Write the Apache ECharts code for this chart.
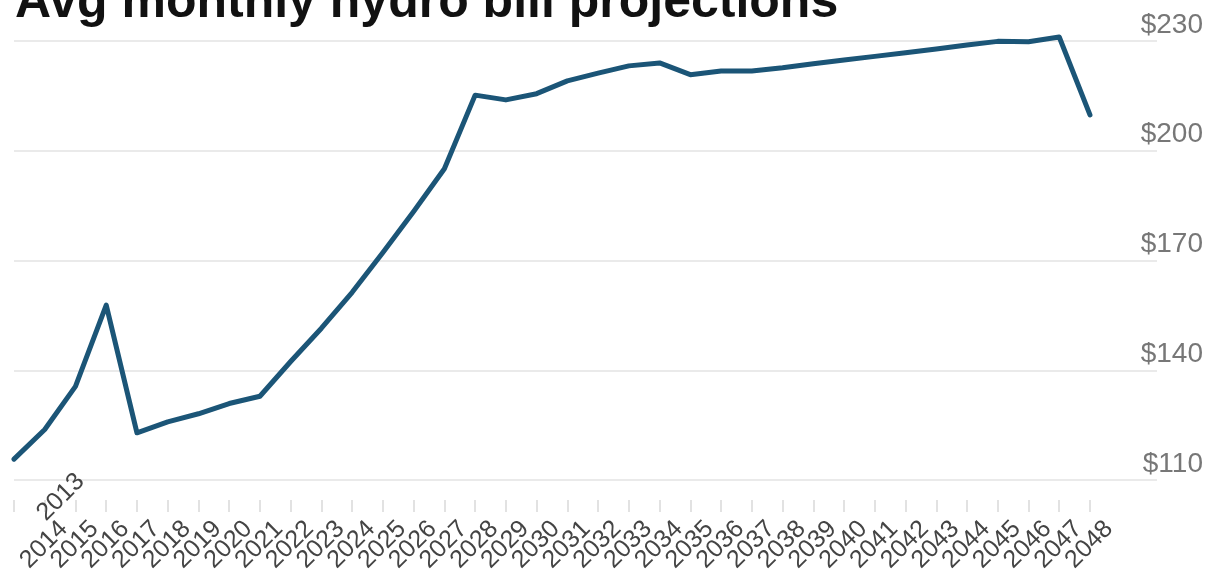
<!DOCTYPE html>
<html><head><meta charset="utf-8">
<script src="https://cdn.jsdelivr.net/npm/echarts@6/dist/echarts.min.js"></script>
<style>html,body{margin:0;padding:0;background:#fff}#c{width:1206px;height:577px}</style>
</head><body><div id="c"></div>
<script>
const chartTitle = 'Avg monthly hydro bill projections';
const years = [2013,2014,2015,2016,2017,2018,2019,2020,2021,2022,2023,2024,2025,2026,2027,2028,2029,2030,2031,2032,2033,2034,2035,2036,2037,2038,2039,2040,2041,2042,2043,2044,2045,2046,2047,2048];
const bills = [115.7,123.8,135.6,157.8,122.9,125.9,128.1,130.9,132.9,142.4,151.5,161.3,172.2,183.4,195.1,215.2,213.9,215.6,219.1,221.2,223.2,224.0,220.8,221.8,221.8,222.7,223.8,224.8,225.8,226.8,227.8,228.9,229.9,229.8,231.1,209.8];
const yTicks = [110,140,170,200,230];

const FONT = "'Liberation Sans', Arial, sans-serif";
const labelShift = 0.62; // label anchor offset (in years) to the right of its tick
const xMax = 2050.18;

function labelAxis(parity, withTicks) {
  return {
    type: 'value', position: 'bottom', min: years[0], max: xMax, interval: 1, offset: 20,
    axisLine: {show: false},
    splitLine: {show: false},
    axisTick: withTicks
      ? {show: true, length: 12, customValues: years, lineStyle: {color: '#d9d9d9', width: 1.5}}
      : {show: false},
    axisLabel: {
      customValues: years.filter((y, i) => i % 2 === parity).map(y => y + labelShift),
      showMinLabel: true, showMaxLabel: true, hideOverlap: false,
      rotate: 45, margin: 25, fontFamily: FONT, fontSize: 25, color: '#444',
      formatter: v => {
        const y = Math.round(v - labelShift);
        return y === years[0] ? '{first|' + y + '}' : String(y);
      },
      rich: {first: {fontFamily: FONT, fontSize: 25, color: '#444', padding: [0, -67, 0, 0]}}
    }
  };
}

const chart = echarts.init(document.getElementById('c'), null, {renderer: 'canvas'});
chart.setOption({
  animation: false,
  backgroundColor: '#fff',
  title: {
    text: chartTitle, left: 15, top: -22, padding: 0,
    textStyle: {fontFamily: FONT, fontSize: 50, fontWeight: 'bold', color: '#111'}
  },
  grid: {left: 14, right: 49, top: 41, bottom: 97, containLabel: false, outerBoundsMode: 'none'},
  xAxis: [labelAxis(0, true), labelAxis(1, false)],
  yAxis: {
    type: 'value', position: 'right', min: yTicks[0], max: yTicks[yTicks.length - 1], interval: 30,
    axisLine: {show: false}, axisTick: {show: false},
    splitLine: {show: true, lineStyle: {color: '#e3e3e3', width: 1.5}},
    axisLabel: {
      formatter: v => '$' + v, align: 'right', verticalAlign: 'bottom', margin: 46,
      padding: [0, 0, 2, 0],
      fontFamily: FONT, fontSize: 28, color: '#777'
    }
  },
  series: [{
    type: 'line', xAxisIndex: 0, data: years.map((y, i) => [y, bills[i]]), symbol: 'none', clip: false,
    lineStyle: {color: '#1b5577', width: 5, join: 'round', cap: 'round'}
  }]
});
</script></body></html>
